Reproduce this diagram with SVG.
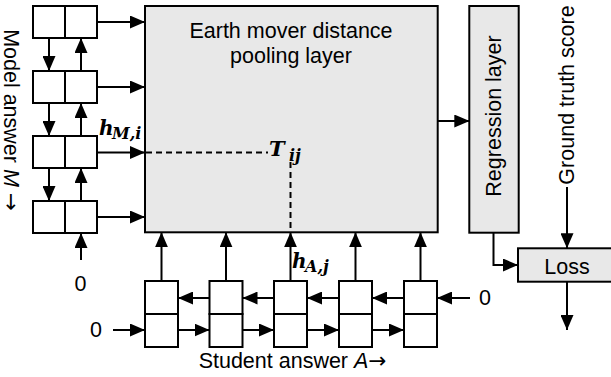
<svg xmlns="http://www.w3.org/2000/svg" width="611" height="377" viewBox="0 0 611 377">
<defs>
<style>
.cell{fill:#fff;stroke:#000;stroke-width:2}
.gray{fill:#e8e8e8;stroke:#000;stroke-width:2}
.t{font-family:"Liberation Sans",Arial,sans-serif;font-size:21.5px;fill:#000}
.ar{font-family:"DejaVu Sans",sans-serif}
.m{font-family:"DejaVu Serif","Liberation Serif",serif;font-weight:bold;font-style:italic;fill:#000}
.c{fill:none;stroke:#000;stroke-width:2}
.d{fill:none;stroke:#000;stroke-width:2;stroke-dasharray:6,4}
</style>
<marker id="ah" markerUnits="userSpaceOnUse" markerWidth="15" markerHeight="13" refX="15" refY="6.5" orient="auto"><path d="M0,0 L15,6.5 L0,13 z" fill="#000"/></marker>
</defs>
<rect width="611" height="377" fill="#fff"/>

<g id="emd-layer">
<rect class="gray" x="145" y="6" width="292.7" height="226.3"/>
<text class="t" x="291" y="38" text-anchor="middle">Earth mover distance</text>
<text class="t" x="291" y="63" text-anchor="middle">pooling layer</text>
</g>
<g id="regression-layer">
<rect class="gray" x="469.3" y="6" width="49.4" height="226.7"/>
<text class="t" transform="translate(500.5,116) rotate(-90)" text-anchor="middle">Regression layer</text>
</g>
<g id="loss">
<rect class="gray" x="518" y="248.3" width="100" height="33.4"/>
<text class="t" x="567" y="273.5" text-anchor="middle">Loss</text>
</g>
<g id="ground-truth">
<text class="t" transform="translate(574,95) rotate(-90)" text-anchor="middle">Ground truth score</text>
</g>

<g id="model-1"><rect class="cell" x="33" y="6" width="32" height="32"/><rect class="cell" x="65" y="6" width="32" height="32"/></g>
<g id="model-2"><rect class="cell" x="33" y="71" width="32" height="32"/><rect class="cell" x="65" y="71" width="32" height="32"/></g>
<g id="model-3"><rect class="cell" x="33" y="136" width="32" height="32"/><rect class="cell" x="65" y="136" width="32" height="32"/></g>
<g id="model-4"><rect class="cell" x="33" y="201" width="32" height="32"/><rect class="cell" x="65" y="201" width="32" height="32"/></g>
<g id="model-label">
<text class="t" transform="translate(4,120) rotate(90)" text-anchor="middle">Model answer <tspan font-style="italic">M</tspan> <tspan class="ar">→</tspan></text>
</g>

<g id="student-1"><rect class="cell" x="145" y="281" width="33" height="33"/><rect class="cell" x="145" y="314" width="33" height="33"/></g>
<g id="student-2"><rect class="cell" x="209.5" y="281" width="33" height="33"/><rect class="cell" x="209.5" y="314" width="33" height="33"/></g>
<g id="student-3"><rect class="cell" x="274" y="281" width="33" height="33"/><rect class="cell" x="274" y="314" width="33" height="33"/></g>
<g id="student-4"><rect class="cell" x="339" y="281" width="33" height="33"/><rect class="cell" x="339" y="314" width="33" height="33"/></g>
<g id="student-5"><rect class="cell" x="404" y="281" width="33" height="33"/><rect class="cell" x="404" y="314" width="33" height="33"/></g>
<g id="student-label">
<text class="t" x="292.5" y="368" text-anchor="middle">Student answer <tspan font-style="italic">A</tspan><tspan class="ar">→</tspan></text>
</g>

<g id="zeros">
<text class="t" x="80.5" y="291" text-anchor="middle">0</text>
<text class="t" x="96" y="337" text-anchor="middle">0</text>
<text class="t" x="485" y="305" text-anchor="middle">0</text>
</g>

<g id="math-labels">
<text class="m" x="99" y="135" font-size="20">h</text>
<text class="m" x="112" y="139" font-size="16">M,i</text>
<text class="m" x="269" y="156" font-size="21">T</text>
<text class="m" x="289" y="161" font-size="16">ij</text>
<text class="m" x="292" y="268" font-size="20">h</text>
<text class="m" x="305" y="272" font-size="16">A,j</text>
</g>

<g id="connectors">
<path class="c" marker-end="url(#ah)" d="M97,22 H145"/>
<path class="c" marker-end="url(#ah)" d="M97,87 H145"/>
<path class="c" marker-end="url(#ah)" d="M97,152.5 H145"/>
<path class="c" marker-end="url(#ah)" d="M97,217 H145"/>
<path class="c" marker-end="url(#ah)" d="M49,38 V71"/>
<path class="c" marker-end="url(#ah)" d="M49,103 V136"/>
<path class="c" marker-end="url(#ah)" d="M49,168 V201"/>
<path class="c" marker-end="url(#ah)" d="M81,71 V38"/>
<path class="c" marker-end="url(#ah)" d="M81,136 V103"/>
<path class="c" marker-end="url(#ah)" d="M81,201 V168"/>
<path class="c" marker-end="url(#ah)" d="M81,260 V233"/>
<path class="c" marker-end="url(#ah)" d="M161.5,281 V232.3"/>
<path class="c" marker-end="url(#ah)" d="M226,281 V232.3"/>
<path class="c" marker-end="url(#ah)" d="M290.5,281 V232.3"/>
<path class="c" marker-end="url(#ah)" d="M355.5,281 V232.3"/>
<path class="c" marker-end="url(#ah)" d="M420.5,281 V232.3"/>
<path class="c" marker-end="url(#ah)" d="M209.5,298 H178"/>
<path class="c" marker-end="url(#ah)" d="M274,298 H242.5"/>
<path class="c" marker-end="url(#ah)" d="M339,298 H307"/>
<path class="c" marker-end="url(#ah)" d="M404,298 H372"/>
<path class="c" marker-end="url(#ah)" d="M470,298 H437"/>
<path class="c" marker-end="url(#ah)" d="M113,330 H145"/>
<path class="c" marker-end="url(#ah)" d="M178,330 H209.5"/>
<path class="c" marker-end="url(#ah)" d="M242.5,330 H274"/>
<path class="c" marker-end="url(#ah)" d="M307,330 H339"/>
<path class="c" marker-end="url(#ah)" d="M372,330 H404"/>
<path class="c" marker-end="url(#ah)" d="M437.7,121 H469.3"/>
<path class="c" marker-end="url(#ah)" d="M493.5,232.7 V265 H518"/>
<path class="c" marker-end="url(#ah)" d="M567,187 V248.3"/>
<path class="c" marker-end="url(#ah)" d="M567,281.7 V330"/>
<path class="d" d="M146,152.5 H268"/>
<path class="d" d="M290.5,162 V231"/>
</g>
</svg>
